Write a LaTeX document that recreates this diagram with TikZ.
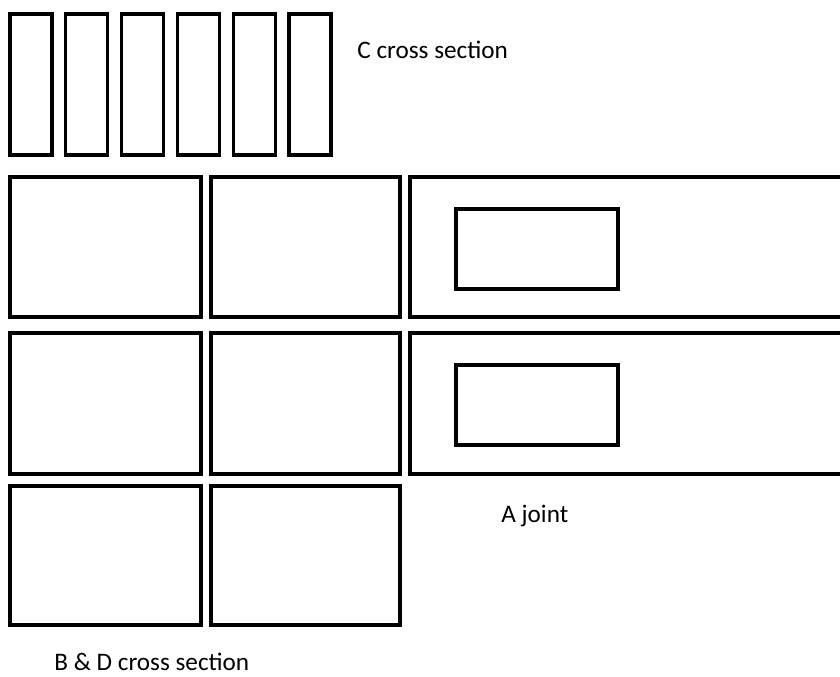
\documentclass[tikz,border=0pt]{standalone}
\usepackage{fontspec}
\setmainfont{Carlito}
\usetikzlibrary{positioning}

\begin{document}
\begin{tikzpicture}[
  x=0.5pt, y=-0.5pt,
  part/.style={draw, line width=1.6pt},
  label/.style={inner sep=0pt, anchor=base west, font=\fontsize{12.6}{15}\selectfont},
]
  \useasboundingbox (0,0) rectangle (840,676);
  \clip (0,0) rectangle (840,676);
  % C cross section strips
  \foreach \i in {0,...,5}
    \draw[part] ({10+55.8*\i},14) rectangle ({52+55.8*\i},155);
  \node[label] (ctext) at (357,58) {C cross section};
  % B & D cross section
  \draw[part] (10,177) rectangle (201,317);
  \draw[part] (211,177) rectangle (400,317);
  \draw[part] (10,333) rectangle (201,474);
  \draw[part] (211,333) rectangle (400,474);
  \draw[part] (10,486) rectangle (201,625);
  \draw[part] (211,486) rectangle (400,625);
  \node[label] (bdtext) at (54,670) {B \& D cross section};
  % A joint
  \draw[part] (410,177) rectangle (860,317);
  \draw[part] (456,209) rectangle (618,289);
  \draw[part] (410,333) rectangle (860,474);
  \draw[part] (456,365) rectangle (618,445);
  \node[label] (atext) at (501,522) {A joint};
\end{tikzpicture}
\end{document}
